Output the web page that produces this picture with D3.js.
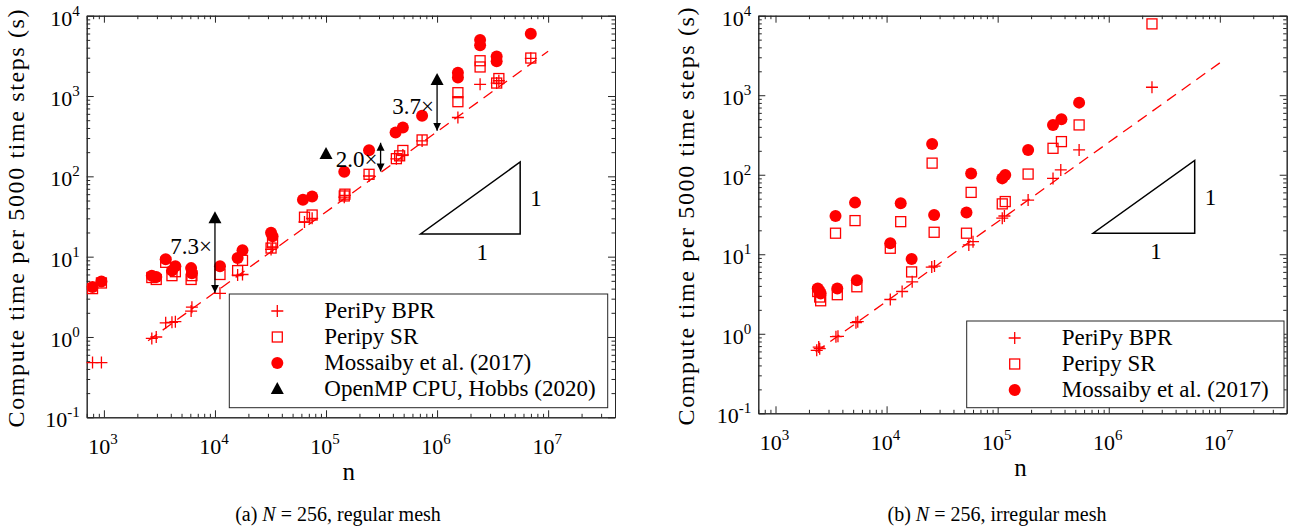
<!DOCTYPE html>
<html>
<head>
<meta charset="utf-8">
<script src="https://cdn.jsdelivr.net/npm/d3@7"></script>
<style>
  body { margin: 0; background: #fff; }
  svg text { font-family: "Liberation Serif", "Times New Roman", serif; fill: #000; }
</style>
</head>
<body>
<div class="js-container"></div>
<script>
'use strict';

// ---- Data (n, compute time in s) ----

// (a) regular mesh
var regBPR = [[790, 0.48], [950, 0.48], [2700, 0.96], [2960, 1.0], [3600, 1.5], [4100, 1.52],
  [4400, 1.55], [6100, 2.1], [6200, 2.35], [11100, 3.5], [16000, 5.9], [17700, 6.0],
  [32000, 12.3], [33000, 13.2], [64000, 27], [75000, 30], [146000, 55], [148000, 58],
  [244000, 101], [430000, 165], [492000, 185], [733000, 276], [1540000, 540],
  [2440000, 1400], [3440000, 1450], [3600000, 1550], [6980000, 2950]];
var regSR = [[790, 4.0], [950, 4.7], [2700, 5.5], [2960, 5.2], [3600, 8.5], [4100, 5.8],
  [4400, 6.5], [6100, 5.2], [6200, 5.8], [11100, 6.0], [16000, 6.7], [17700, 9.0],
  [32000, 12.8], [33000, 14.8], [64000, 31], [75000, 33], [146000, 57], [148000, 60],
  [244000, 106], [430000, 166], [460000, 180], [492000, 210], [733000, 284],
  [1540000, 850], [1540000, 1100], [2440000, 2300], [2440000, 2750], [3440000, 1450],
  [3600000, 1650], [6980000, 2970]];
var regMos = [[790, 4.2], [950, 4.9], [2700, 5.8], [2960, 5.6], [3600, 9.3], [4100, 6.7],
  [4400, 7.6], [6100, 7.2], [6200, 6.2], [11100, 7.6], [16000, 9.6], [17700, 12],
  [32000, 19.8], [33000, 18], [62000, 51], [75000, 56], [146000, 114], [244000, 211],
  [423000, 352], [492000, 406], [733000, 567], [1540000, 1700], [1540000, 1950],
  [2440000, 4300], [2440000, 5000], [3440000, 2700], [3440000, 3100], [6980000, 5960]];
var regOmp = [[10000, 30], [100000, 190], [1000000, 1580]];
var regFit = [[2500, 0.9], [10000000, 3600]];
var regArrows = [
  {n: 10000, from: 30, to: 3.55, both: false, label: '7.3×', labelT: 13.6},
  {n: 310000, from: 262, to: 115, both: true, label: '2.0×', labelT: 165},
  {n: 1000000, from: 1580, to: 370, both: false, label: '3.7×', labelT: 750}
];
var regSlope = [[710000, 19.2], [5600000, 151]];

// (b) irregular mesh
var irrBPR = [[2350, 0.62], [2450, 0.68], [2500, 0.65], [3500, 0.92], [3650, 0.93],
  [5300, 1.38], [5500, 1.42], [10800, 2.7], [13800, 3.4], [17000, 4.5], [25500, 6.9],
  [27000, 7.1], [55000, 13.1], [60000, 14.4], [110000, 28.4], [115000, 30.3],
  [188000, 48], [315000, 90], [370000, 115], [541000, 205], [2450000, 1260]];
var irrSR = [[2400, 3.4], [2500, 2.9], [2550, 2.6], [3600, 3.1], [5400, 3.9], [10800, 11.9],
  [16800, 6.0], [3470, 18.4], [5200, 26.5], [13400, 25.7], [26800, 18.9], [52400, 18.4],
  [25700, 140], [57700, 60], [110000, 43], [117000, 46], [188000, 102], [315000, 215],
  [375000, 261], [541000, 423], [2450000, 7890]];
var irrMos = [[2400, 3.7], [2500, 3.4], [2550, 3.2], [3600, 3.7], [5400, 4.7], [10800, 13.8],
  [16800, 8.7], [3470, 30.3], [5200, 44.6], [13400, 43.8], [26800, 31.2], [52400, 33.4],
  [25700, 244], [57700, 104], [110000, 90], [117000, 99], [188000, 205], [315000, 423],
  [375000, 499], [541000, 807]];
var irrFit = [[2300, 0.59], [10000000, 2550]];
var irrSlope = [[723000, 18.4], [5940000, 151]];

var xTicks = [1e3, 1e4, 1e5, 1e6, 1e7];
var yTicks = [1e-1, 1e0, 1e1, 1e2, 1e3, 1e4];
var legendNames = ['PeriPy BPR', 'Peripy SR', 'Mossaiby et al. (2017)', 'OpenMP CPU, Hobbs (2020)'];

var RED = '#ff0000';
var AXIS = '#262626';

var svg = d3.select('.js-container').append('svg')
    .attr('width', 1291)
    .attr('height', 529)
    .attr('font-family', '"Liberation Serif", "Times New Roman", serif');

var defs = svg.append('defs');
defs.append('marker')
    .attr('id', 'head')
    .attr('viewBox', '0 0 10 10')
    .attr('refX', 10).attr('refY', 5)
    .attr('markerUnits', 'userSpaceOnUse')
    .attr('markerWidth', 8).attr('markerHeight', 10)
    .attr('orient', 'auto-start-reverse')
  .append('path')
    .attr('d', 'M0,0L10,5L0,10Z')
    .attr('fill', '#000');

/**
 * Draws a marker of a given kind at (x, y).
 */
function drawMarker(g, kind, x, y) {
  if (kind == 'plus') {
    g.append('path')
        .attr('d', 'M' + (x - 6) + ',' + y + 'h12M' + x + ',' + (y - 6) + 'v12')
        .attr('stroke', RED).attr('stroke-width', 1.3).attr('fill', 'none');
  } else if (kind == 'square') {
    g.append('rect')
        .attr('x', x - 5).attr('y', y - 5)
        .attr('width', 10).attr('height', 10)
        .attr('stroke', RED).attr('stroke-width', 1.3).attr('fill', 'none');
  } else if (kind == 'circle') {
    g.append('circle')
        .attr('cx', x).attr('cy', y).attr('r', 6)
        .attr('fill', RED);
  } else if (kind == 'triangle') {
    g.append('path')
        .attr('d', 'M' + x + ',' + (y - 7) + 'L' + (x + 6.5) + ',' + (y + 5) + 'L' + (x - 6.5) + ',' + (y + 5) + 'Z')
        .attr('fill', '#000');
  }
}

function powLabel(sel, v) {
  var e = Math.round(Math.log10(v));
  sel.append('tspan').text('10');
  sel.append('tspan').attr('dy', -10).attr('font-size', 15).text(e);
}

/**
 * Draws one panel: box, log axes, series, fit line, slope triangle, legend.
 */
function drawPanel(p) {
  var x = d3.scaleLog().domain([700, 4e7]).range([p.left, p.right]);
  var y = d3.scaleLog().domain([0.1, 1e4]).range([p.bottom, p.top]);
  var g = svg.append('g');

  var minorX = x.ticks().filter(function(d) { return xTicks.indexOf(d) < 0; });
  var minorY = y.ticks().filter(function(d) { return yTicks.indexOf(d) < 0; });

  // Ticks on all four sides, pointing inward
  var axes = [
    [d3.axisBottom(x), 'translate(0,' + p.bottom + ')', xTicks, minorX],
    [d3.axisTop(x), 'translate(0,' + p.top + ')', xTicks, minorX],
    [d3.axisLeft(y), 'translate(' + p.left + ',0)', yTicks, minorY],
    [d3.axisRight(y), 'translate(' + p.right + ',0)', yTicks, minorY]
  ];
  axes.forEach(function(a) {
    [[a[2], 7], [a[3], 3.5]].forEach(function(t) {
      var ax = g.append('g')
          .attr('transform', a[1])
          .call(a[0].tickValues(t[0]).tickSize(-t[1]).tickSizeOuter(0).tickFormat(function() { return ''; }));
      ax.select('.domain').attr('stroke', AXIS);
      ax.selectAll('.tick line').attr('stroke', AXIS);
    });
  });

  g.selectAll('.xlab')
    .data(xTicks)
    .enter().append('text')
      .attr('x', function(d) { return x(d) - 1; })
      .attr('y', p.bottom + 37)
      .attr('text-anchor', 'middle')
      .attr('font-size', 22)
      .each(function(d) { powLabel(d3.select(this), d); });

  g.selectAll('.ylab')
    .data(yTicks)
    .enter().append('text')
      .attr('x', p.left - 7)
      .attr('y', function(d) { return y(d) + 10; })
      .attr('text-anchor', 'end')
      .attr('font-size', 22)
      .each(function(d) { powLabel(d3.select(this), d); });

  // axis titles
  g.append('text')
      .attr('x', (p.left + p.right) / 2 - 2)
      .attr('y', p.bottom + 63)
      .attr('text-anchor', 'middle')
      .attr('font-size', 25)
      .text('n');
  g.append('text')
      .attr('transform', 'translate(' + p.ylabX + ',' + ((p.top + p.bottom) / 2 + 2) + ') rotate(-90)')
      .attr('text-anchor', 'middle')
      .attr('font-size', 24)
      .attr('textLength', 418)
      .attr('lengthAdjust', 'spacing')
      .text('Compute time per 5000 time steps (s)');

  // caption
  var cap = g.append('text')
      .attr('x', p.capX)
      .attr('y', 521)
      .attr('text-anchor', 'middle')
      .attr('font-size', 20);
  cap.append('tspan').text(p.capPre + ' ');
  cap.append('tspan').attr('font-style', 'italic').text('N');
  cap.append('tspan').text(' = 256, ' + p.capPost);

  // dashed fit line
  g.append('path')
      .attr('d', d3.line().x(function(d) { return x(d[0]); }).y(function(d) { return y(d[1]); })(p.fit))
      .attr('stroke', RED)
      .attr('stroke-width', 1.3)
      .attr('stroke-dasharray', '11,7')
      .attr('fill', 'none');

  // series
  p.series.forEach(function(s) {
    s.data.forEach(function(d) { drawMarker(g, s.kind, x(d[0]), y(d[1])); });
  });

  // arrows and labels
  (p.arrows || []).forEach(function(a) {
    var line = g.append('line')
        .attr('x1', x(a.n)).attr('x2', x(a.n))
        .attr('y1', y(a.from)).attr('y2', y(a.to))
        .attr('stroke', '#000').attr('stroke-width', 1.3)
        .attr('marker-end', 'url(#head)');
    if (a.both) line.attr('marker-start', 'url(#head)');
    g.append('text')
        .attr('x', x(a.n) - 3)
        .attr('y', y(a.labelT))
        .attr('dy', '0.35em')
        .attr('text-anchor', 'end')
        .attr('font-size', 23)
        .text(a.label);
  });

  // slope triangle
  var s0 = p.slope[0], s1 = p.slope[1];
  var tri = [[s0[0], s0[1]], [s1[0], s0[1]], [s1[0], s1[1]]];
  g.append('path')
      .attr('d', d3.line().x(function(d) { return x(d[0]); }).y(function(d) { return y(d[1]); })(tri) + 'Z')
      .attr('stroke', '#000').attr('stroke-width', 1.5).attr('fill', 'none');
  g.append('text')
      .attr('x', x(s1[0]) + 10).attr('y', (y(s0[1]) + y(s1[1])) / 2 + 8)
      .attr('font-size', 23).text('1');
  g.append('text')
      .attr('x', (x(s0[0]) + x(s1[0])) / 2 + 12).attr('y', y(s0[1]) + 26)
      .attr('text-anchor', 'middle')
      .attr('font-size', 23).text('1');

  // legend
  var lg = g.append('g');
  lg.append('rect')
      .attr('x', p.leg[0]).attr('y', p.leg[1])
      .attr('width', p.leg[2] - p.leg[0]).attr('height', p.leg[3] - p.leg[1])
      .attr('fill', '#fff').attr('stroke', AXIS).attr('stroke-width', 1);
  p.series.forEach(function(s, i) {
    var ry = p.leg[1] + 17 + i * 26;
    drawMarker(lg, s.kind, p.leg[0] + 48, ry);
    lg.append('text')
        .attr('x', p.leg[0] + 95)
        .attr('y', ry + 7)
        .attr('font-size', 23)
        .text(legendNames[i]);
  });
}

drawPanel({
  left: 86.7, right: 615, top: 15.7, bottom: 417.3,
  ylabX: 24, capX: 338, capPre: '(a)', capPost: 'regular mesh',
  fit: regFit, arrows: regArrows, slope: regSlope,
  leg: [229.3, 294, 607.7, 407.7],
  series: [
    {kind: 'plus', data: regBPR},
    {kind: 'square', data: regSR},
    {kind: 'circle', data: regMos},
    {kind: 'triangle', data: regOmp}
  ]
});

drawPanel({
  left: 758.3, right: 1286.7, top: 15.7, bottom: 413.3,
  ylabX: 694, capX: 997, capPre: '(b)', capPost: 'irregular mesh',
  fit: irrFit, slope: irrSlope,
  leg: [966.7, 321, 1284, 407.7],
  series: [
    {kind: 'plus', data: irrBPR},
    {kind: 'square', data: irrSR},
    {kind: 'circle', data: irrMos}
  ]
});
</script>
</body>
</html>
